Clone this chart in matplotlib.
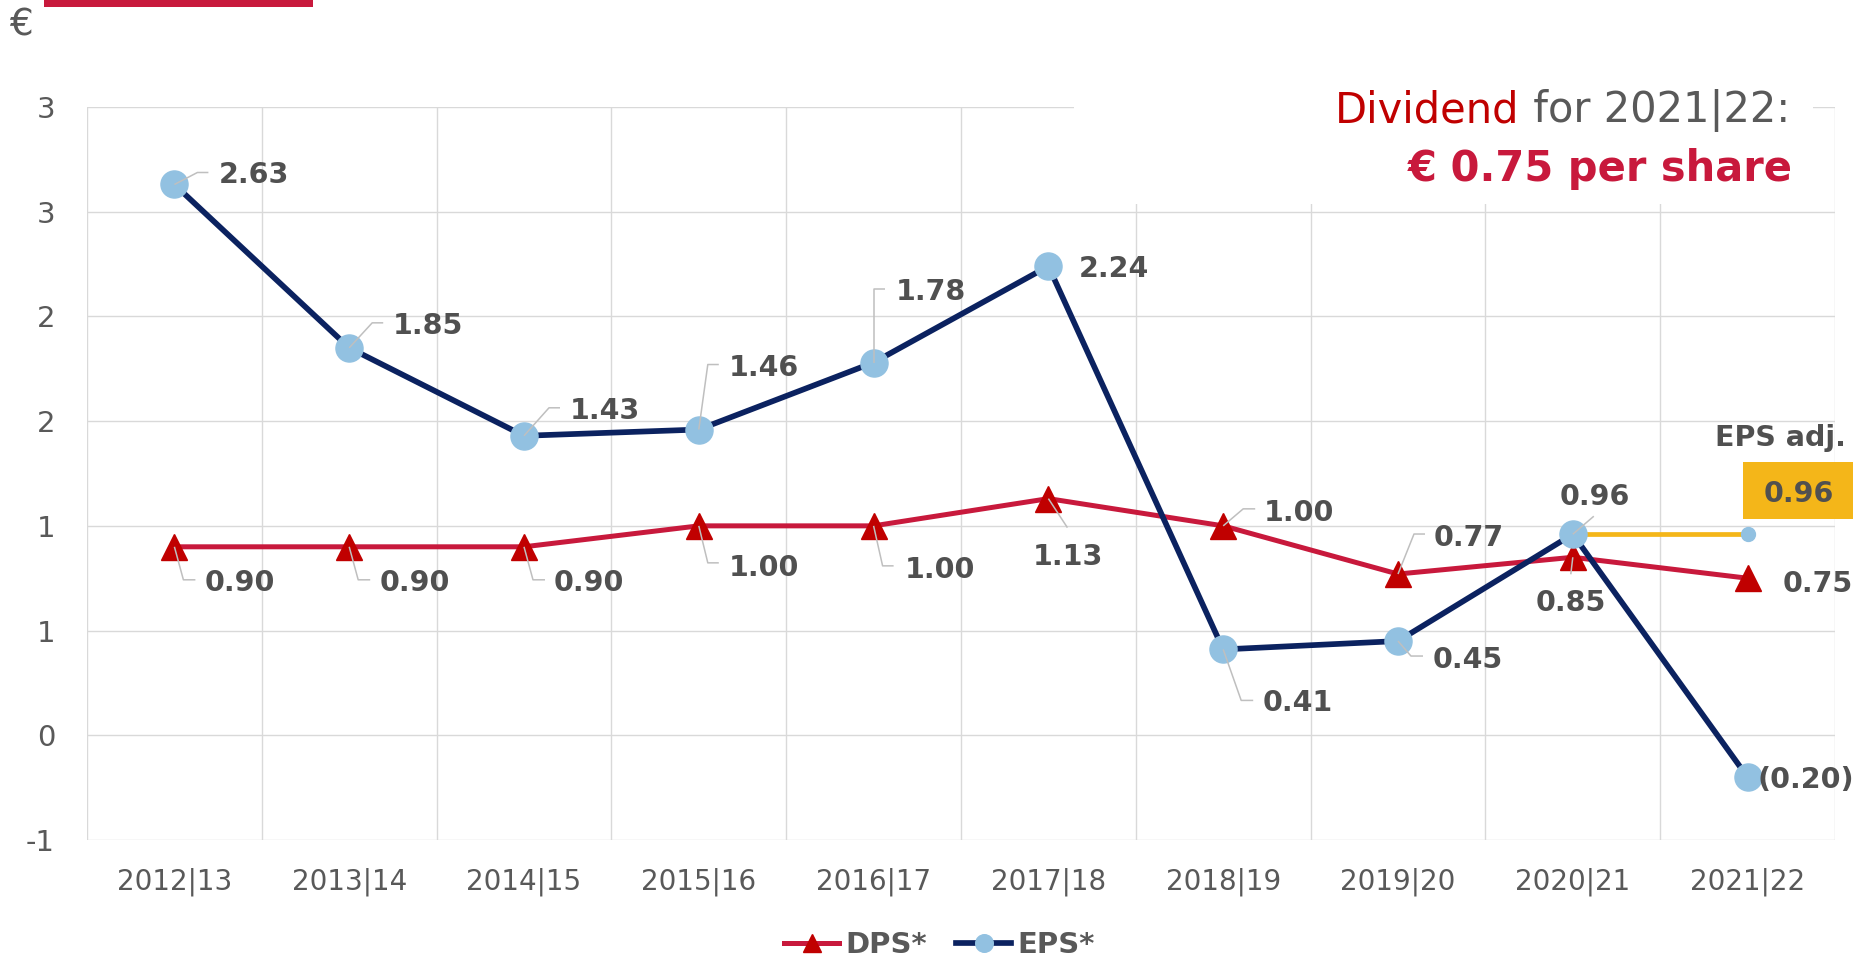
import numpy as np
import matplotlib
matplotlib.use("Agg")
import matplotlib.pyplot as plt
from matplotlib.patches import Rectangle

# fiscal years and per-share figures (EUR)
years = ['2012|13', '2013|14', '2014|15', '2015|16', '2016|17',
         '2017|18', '2018|19', '2019|20', '2020|21', '2021|22']
dps = [0.90, 0.90, 0.90, 1.00, 1.00, 1.13, 1.00, 0.77, 0.85, 0.75]
eps = [2.63, 1.85, 1.43, 1.46, 1.78, 2.24, 0.41, 0.45, 0.96, -0.20]
eps_adj = 0.96

y_ticks = [-0.5, 0.0, 0.5, 1.0, 1.5, 2.0, 2.5, 3.0]
y_tick_labels = ['-1', '0', '1', '1', '2', '2', '3', '3']

GREY = '#595959'
LABEL = '#505050'
GRID = '#D9D9D9'
RED_LINE = '#C8193C'
RED_MARK = '#C00000'
NAVY = '#0B2260'
LIGHT_BLUE = '#92C1E1'
YELLOW = '#F4B619'
LEADER = '#BFBFBF'

W, H = 1860, 959
fig = plt.figure(figsize=(W / 100, H / 100), dpi=100)
ax = fig.add_axes([87 / W, 1 - 840 / H, (1835 - 87) / W, (840 - 107) / H])

x = np.arange(len(years))

ax.set_xlim(-0.5, len(years) - 0.5)
ax.set_ylim(-0.5, 3.0)
ax.set_xticks(x)
ax.set_xticklabels(years)
ax.set_xticks(np.arange(-0.5, len(years)), minor=True)
ax.set_yticks(y_ticks)
ax.set_yticklabels(y_tick_labels)
ax.tick_params(axis='x', which='both', length=0, pad=20, labelsize=20, labelcolor=GREY)
ax.tick_params(axis='y', length=0, pad=23, labelsize=21, labelcolor=GREY)
ax.grid(axis='y', which='major', color=GRID, lw=1.0)
ax.grid(axis='x', which='minor', color=GRID, lw=1.0)
ax.grid(axis='x', which='major', visible=False)
ax.set_axisbelow(True)
for s in ax.spines.values():
    s.set_visible(False)

dps_line, = ax.plot(x, dps, color=RED_LINE, lw=3.6, marker='^', ms=19,
                    mfc=RED_MARK, mec=RED_MARK, zorder=3, label='DPS*')
eps_line, = ax.plot(x, eps, color=NAVY, lw=4.1, marker='o', ms=19.5,
                    mfc=LIGHT_BLUE, mec=LIGHT_BLUE, zorder=4, label='EPS*')

# adjusted EPS for the last year
ax.plot([x[-2], x[-1]], [eps_adj, eps_adj], color=YELLOW, lw=3.4, zorder=3,
        solid_capstyle='butt')
ax.plot([x[-1]], [eps_adj], 'o', ms=10, color=LIGHT_BLUE, zorder=5)


def off(xv, yv, dx, dy):
    """Shift a data point by (dx, dy) screen pixels, return data coords."""
    p = ax.transData.transform((xv, yv)) + np.array([dx, dy])
    return ax.transData.inverted().transform(p)


def fmt(v):
    return f'({abs(v):.2f})' if v < 0 else f'{v:.2f}'


# label placement: (dx, dy, ha, leader path in pixel offsets)
eps_lab = [
    (44, 12, 'left', [(0, 0), (23, 12), (34, 12)]),
    (44, 25, 'left', [(0, 0), (23, 25), (34, 25)]),
    (46, 28, 'left', [(0, 0), (25, 28), (36, 28)]),
    (30, 65, 'left', [(0, 0), (9, 65), (20, 65)]),
    (22, 74, 'left', [(0, 0), (0, 74), (11, 74)]),
    (30, 0, 'left', None),
    (39, -51, 'left', [(0, 0), (18, -51), (30, -51)]),
    (35, -16, 'left', [(0, 0), (13, -15), (25, -15)]),
    (22, 40, 'center', [(0, 0), (21, 18)]),
    (10, 0, 'left', None),
]
dps_lab = [
    (30, -33, 'left', [(0, 0), (9, -33), (21, -33)]),
    (30, -33, 'left', [(0, 0), (9, -33), (21, -33)]),
    (30, -33, 'left', [(0, 0), (9, -33), (21, -33)]),
    (30, -39, 'left', [(0, 0), (9, -37), (20, -37)]),
    (31, -41, 'left', [(0, 0), (9, -40), (20, -40)]),
    (20, -55, 'center', [(0, 0), (19, -29)]),
    (41, 16, 'left', [(0, 0), (20, 17), (32, 17)]),
    (36, 39, 'left', [(0, 0), (16, 40), (27, 40)]),
    (-2, -43, 'center', [(0, 0), (-2, -17)]),
    (35, -3, 'left', None),
]

for vals, labs in ((eps, eps_lab), (dps, dps_lab)):
    for xi, v, (dx, dy, ha, leader) in zip(x, vals, labs):
        if leader:
            pts = np.array([off(xi, v, a, b) for a, b in leader])
            ax.plot(pts[:, 0], pts[:, 1], color=LEADER, lw=1.1, zorder=6,
                    solid_capstyle='butt')
        ax.annotate(fmt(v), (xi, v), xytext=(dx, dy), textcoords='offset pixels',
                    ha=ha, va='center_baseline', fontsize=20.5, fontweight='bold',
                    color=LABEL, zorder=7, annotation_clip=False)

# EPS adj. call-out box
bx0, by0 = off(x[-1], eps_adj, -5, 15)
bx1, by1 = off(x[-1], eps_adj, 105, 72)
ax.add_patch(Rectangle((bx0, by0), bx1 - bx0, by1 - by0, facecolor=YELLOW,
                       edgecolor='none', clip_on=False, zorder=6))
ax.annotate(fmt(eps_adj), (x[-1], eps_adj), xytext=(51, 43), textcoords='offset pixels',
            ha='center', va='center_baseline', fontsize=20.5, fontweight='bold',
            color=LABEL, zorder=7, annotation_clip=False)
ax.annotate('EPS adj.', (x[-1], eps_adj), xytext=(33, 99), textcoords='offset pixels',
            ha='center', va='center_baseline', fontsize=20.5, fontweight='bold',
            color=LABEL, zorder=7, annotation_clip=False)

# headline panel masking the grid behind it
ax.add_patch(Rectangle((1074 / W, 1 - 204 / H), (1813 - 1074) / W, 110 / H,
                       transform=fig.transFigure, facecolor='white',
                       edgecolor='none', zorder=1, clip_on=False))
rest = ax.annotate(' for 2021|22:', xy=(1790 / W, 1 - 110 / H), xycoords='figure fraction',
                   ha='right', va='center', fontsize=30, color=GREY, zorder=8)
ax.annotate('Dividend', xy=(0, 0), xycoords=rest, ha='right', va='bottom',
            fontsize=30, color=RED_MARK, zorder=8)
ax.annotate('€ 0.75 per share', xy=(1793 / W, 1 - 165 / H), xycoords='figure fraction',
            ha='right', va='center_baseline', fontsize=30, fontweight='bold',
            color=RED_LINE, zorder=8)

# top accent bar and unit
fig.patches.append(Rectangle((44 / W, 1 - 7 / H), (313 - 44) / W, 7 / H,
                             transform=fig.transFigure, facecolor=RED_LINE,
                             edgecolor='none'))
fig.text(21 / W, 1 - 25 / H, '€', ha='center', va='center', fontsize=27, color=GREY)

leg = fig.legend(handles=[dps_line, eps_line], loc='center',
                 bbox_to_anchor=(0.505, 1 - 945 / H), ncol=2, frameon=False,
                 markerscale=0.65, handlelength=1.9, handletextpad=0.2,
                 columnspacing=1.0, prop={'size': 21, 'weight': 'bold'},
                 labelcolor=GREY)

fig.savefig('out.png', dpi=100, facecolor='white')
